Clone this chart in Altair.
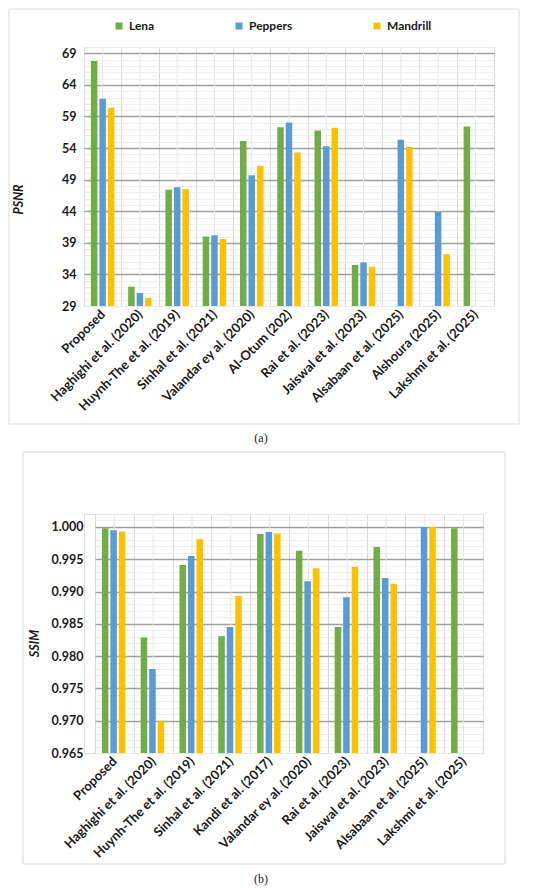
import altair as alt
import pandas as pd

series = ["Lena", "Peppers", "Mandrill"]
colors = ["#70AD47", "#5B9BD5", "#FFC000"]

psnr_methods = ["Proposed", "Haghighi et al. (2020)", "Huynh-The et al. (2019)",
                "Sinhal et al. (2021)", "Valandar ey al. (2020)", "Al-Otum (202)",
                "Rai et al. (2023)", "Jaiswal et al. (2023)", "Alsabaan et al. (2025)",
                "Alshoura (2025)", "Lakshmi et al. (2025)"]
psnr_lena = [67.8, 32.05, 47.4, 40.0, 55.1, 57.3, 56.8, 35.5, None, None, 57.4]
psnr_peppers = [61.8, 31.05, 47.8, 40.2, 49.7, 58.05, 54.3, 35.9, 55.3, 43.9, None]
psnr_mandrill = [60.4, 30.3, 47.5, 39.6, 51.2, 53.3, 57.2, 35.2, 54.2, 37.2, None]

ssim_methods = ["Proposed", "Haghighi et al. (2020)", "Huynh-The et al. (2019)",
                "Sinhal et al. (2021)", "Kandi et al. (2017)", "Valandar ey al. (2020)",
                "Rai et al. (2023)", "Jaiswal et al. (2023)", "Alsabaan et al. (2025)",
                "Lakshmi et al. (2025)"]
ssim_lena = [0.9998, 0.9829, 0.9941, 0.9831, 0.9989, 0.9963, 0.9845, 0.9969, None, 0.9998]
ssim_peppers = [0.9995, 0.9780, 0.9955, 0.9845, 0.9992, 0.9916, 0.9891, 0.9921, 1.0000, None]
ssim_mandrill = [0.9993, 0.9700, 0.9981, 0.9893, 0.9990, 0.9936, 0.9938, 0.9912, 1.0000, None]

psnr_ticks = list(range(29, 71))
ssim_ticks = [round(0.965 + i * 0.001, 3) for i in range(38)]

FONT = "Lato"
TXT = "#1a1a1a"


def long_df(methods, cols):
    rows = []
    for name, vals in zip(series, cols):
        for m, v in zip(methods, vals):
            if v is not None:
                rows.append({"method": m, "series": name, "value": v})
    return pd.DataFrame(rows)


def panel(methods, cols, ticks, ymin, ymax, test_major, label_expr, ytitle,
          w, h, x0, frame, extend_left, title_x, title_y, leg_x, leg_y, col_pad,
          cap, cap_x, cap_y, fmt, lab_pad):
    df = long_df(methods, cols)
    xscale = alt.Scale(paddingInner=0, paddingOuter=0, range=[x0, w])
    xenc = alt.X("method:N", sort=methods, scale=xscale,
                 axis=alt.Axis(title=None, labelAngle=-45, labelFontSize=13,
                               labelFontWeight="bold", labelColor=TXT, labelFont=FONT,
                               ticks=False, domain=False, grid=True, tickBand="extent",
                               gridColor="#d9d9d9", gridWidth=1, labelPadding=6,
                               labelLimit=300))
    yscale = alt.Scale(domain=[ymin, ymax], nice=False, zero=False)
    bars = alt.Chart(df).mark_bar().encode(
        x=xenc,
        xOffset=alt.XOffset("series:N", sort=series,
                            scale=alt.Scale(paddingInner=0.235, paddingOuter=0.81)),
        y=alt.Y("value:Q", scale=yscale,
                axis=alt.Axis(values=ticks, labelExpr=label_expr, labelOverlap=False,
                              labelFontSize=12.5, labelFontWeight="bold", labelFont=FONT,
                              labelColor=TXT, ticks=False, domain=False,
                              labelPadding=lab_pad, offset=-x0, format=fmt,
                              gridColor={"condition": {"test": test_major, "value": "#a0a0a0"},
                                         "value": "#ebebeb"},
                              gridWidth={"condition": {"test": test_major, "value": 1.4},
                                         "value": 0.8},
                              title=ytitle, titleFont=FONT, titleFontSize=12.5,
                              titleFontWeight="bold", titleFontStyle="italic",
                              titleColor=TXT, titleX=title_x, titleY=title_y,
                              titleAngle=270, titleAlign="center", titleBaseline="middle")),
        y2=alt.datum(ymin),
        color=alt.Color("series:N", sort=series,
                        scale=alt.Scale(domain=series, range=colors),
                        legend=alt.Legend(orient="none", legendX=leg_x, legendY=leg_y,
                                          direction="horizontal", title=None,
                                          symbolType="square", symbolSize=49,
                                          symbolStrokeWidth=0, labelFontSize=12,
                                          labelFontWeight="bold", labelFont=FONT,
                                          labelColor=TXT, columnPadding=col_pad,
                                          labelOffset=4, padding=0)),
    )
    centers = alt.Chart(pd.DataFrame({"method": methods})).mark_rule(
        color="#e6e6e6", strokeWidth=1).encode(x=alt.X("method:N", sort=methods, scale=xscale))
    one = alt.Data(values=[{"k": 1}])
    fx1, fx2, fy1, fy2 = frame
    box = alt.Chart(one).mark_rect(fillOpacity=0, stroke="#d9d9d9", strokeWidth=1).encode(
        x=alt.value(fx1), x2=alt.value(fx2), y=alt.value(fy1), y2=alt.value(fy2))
    ext = alt.Chart(one).mark_rule(opacity=0).encode(
        x=alt.value(extend_left), y=alt.value(0), y2=alt.value(10))
    caption = alt.Chart(one).mark_text(font="Liberation Serif", fontSize=12,
                                       color="#222222", baseline="middle",
                                       align="center").encode(
        x=alt.value(cap_x), y=alt.value(cap_y), text=alt.value(cap))
    return alt.layer(box, ext, centers, bars, caption).properties(width=w, height=h)


# both panels share the same group origin (page x = 83)
top = panel(psnr_methods, [psnr_lena, psnr_peppers, psnr_mandrill], psnr_ticks, 29, 70,
            "(datum.value - 29) % 5 == 0 && datum.value > 29",
            "(datum.value - 29) % 5 == 0 ? datum.label : ''", "PSNR",
            410, 259, 0, (-75, 435, -38, 377), -75, -66, 152, 29, -27, 78,
            "(a)", 177, 391, "d", 8)
bottom = panel(ssim_methods, [ssim_lena, ssim_peppers, ssim_mandrill], ssim_ticks,
               0.965, 1.002,
               "round(datum.value * 1000) % 5 == 0 && datum.value > 0.9655",
               "round(datum.value * 1000) % 5 == 0 ? format(datum.value, '.3f') : ''",
               "SSIM", 399, 239, 11, (-61, 421, -62, 350), -75, -61, 129, 36, -49, 73,
               "(b)", 177, 365, ".3f", 12)

chart = alt.vconcat(top, bottom, spacing=6).properties(
    padding=0).configure_view(stroke=None).configure(background="white")

chart.save("out.html", embed_options={"renderer": "svg", "actions": False})
